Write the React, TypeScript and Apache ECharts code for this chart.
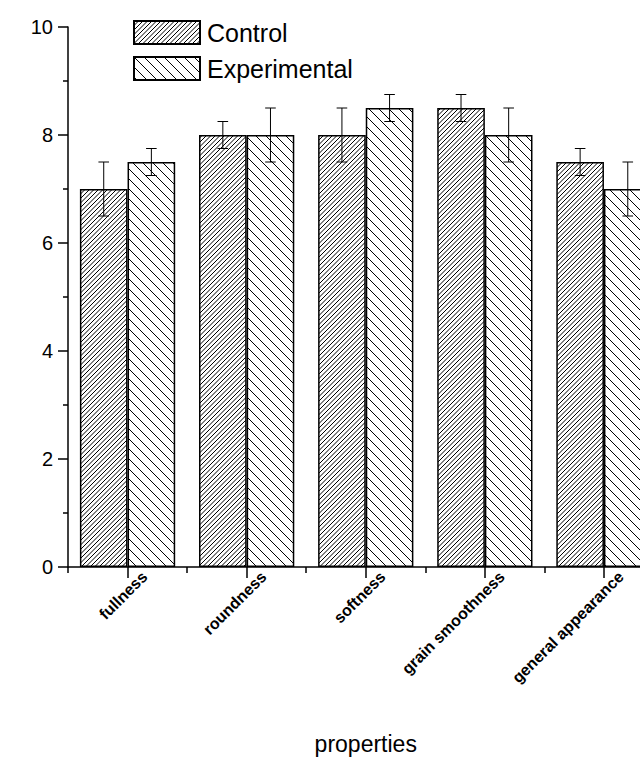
import React, { useEffect, useRef } from 'react';
import * as echarts from 'echarts';

const categories = ['fullness', 'roundness', 'softness', 'grain smoothness', 'general appearance'];
const controlMeans = [7, 8, 8, 8.5, 7.5];
const controlErrors = [0.5, 0.25, 0.5, 0.25, 0.25];
const experimentalMeans = [7.5, 8, 8.5, 8, 7];
const experimentalErrors = [0.25, 0.5, 0.25, 0.5, 0.5];
const yMin = 0;
const yMax = 10;
const yInterval = 2;
const axisTitle = 'properties';
const seriesNames = ['Control', 'Experimental'];

const FONT = '"Liberation Sans", Arial, sans-serif';

function makeHatch(size: number, spacing: number, dir: 1 | -1): HTMLCanvasElement {
  const c = document.createElement('canvas');
  c.width = size;
  c.height = size;
  const ctx = c.getContext('2d')!;
  ctx.fillStyle = '#fff';
  ctx.fillRect(0, 0, size, size);
  ctx.strokeStyle = '#000';
  ctx.lineWidth = 1;
  for (let k = -2 * size; k <= 3 * size; k += spacing) {
    ctx.beginPath();
    if (dir === 1) {
      ctx.moveTo(-size, k + size);
      ctx.lineTo(2 * size, k - 2 * size);
    } else {
      ctx.moveTo(-size, -size - k);
      ctx.lineTo(2 * size, 2 * size - k);
    }
    ctx.stroke();
  }
  return c;
}

function errorRender(sign: number) {
  return (params: any, api: any) => {
    const idx = api.value(0);
    const mean = api.value(1);
    const err = api.value(2);
    const band = api.size([1, 0])[0];
    const half = (band * 0.8) / 4;
    const cx = api.coord([idx, mean])[0] + sign * half;
    const yTop = api.coord([idx, mean + err])[1];
    const yBot = api.coord([idx, mean - err])[1];
    const capW = 5.3;
    const style = { stroke: '#000', lineWidth: 1 };
    return {
      type: 'group',
      children: [
        { type: 'line', shape: { x1: cx, y1: yTop, x2: cx, y2: yBot }, style },
        { type: 'line', shape: { x1: cx - capW, y1: yTop, x2: cx + capW, y2: yTop }, style },
        { type: 'line', shape: { x1: cx - capW, y1: yBot, x2: cx + capW, y2: yBot }, style },
      ],
    };
  };
}

const CHART_WIDTH = 690;

export default function App() {
  const ref = useRef<HTMLDivElement>(null);
  useEffect(() => {
    if (!ref.current) return;
    const chart = echarts.init(ref.current, undefined, { renderer: 'svg' });
    const controlPattern = { image: makeHatch(9, 4.5, 1), repeat: 'repeat' };
    const expPattern = { image: makeHatch(10, 10, -1), repeat: 'repeat' };
    const gridLeft = 68;
    const gridRight = 26.5;
    const labelShift = 17;
    chart.setOption({
      animation: false,
      backgroundColor: '#fff',
      legend: {
        data: seriesNames,
        orient: 'vertical',
        left: 133,
        top: 20,
        padding: 0,
        itemWidth: 66,
        itemHeight: 23,
        itemGap: 11,
        selectedMode: false,
        icon: 'rect',
        textStyle: { fontSize: 25, color: '#000', fontFamily: FONT, padding: [0, 0, 0, 2] },
      },
      grid: [
        { left: gridLeft, right: gridRight, top: 27, height: 540 },
        { left: gridLeft + labelShift, right: gridRight - labelShift, top: 27, height: 540 },
      ],
      xAxis: [
        {
          type: 'category',
          gridIndex: 0,
          data: categories,
          position: 'bottom',
          axisLine: { show: true, lineStyle: { color: '#000', width: 1.5 } },
          axisTick: { show: true, alignWithLabel: true, length: 11, interval: 0, lineStyle: { color: '#000', width: 1.5 } },
          axisLabel: { show: false },
          splitLine: { show: false },
          name: axisTitle,
          nameLocation: 'middle',
          nameGap: 165,
          nameTextStyle: { fontSize: 23, color: '#000', fontFamily: FONT },
        },
        {
          type: 'category',
          gridIndex: 0,
          data: categories,
          position: 'bottom',
          axisLine: { show: false },
          axisTick: { show: true, alignWithLabel: false, length: 6, interval: 0, lineStyle: { color: '#000', width: 1.5 } },
          axisLabel: { show: false },
          splitLine: { show: false },
        },
        {
          type: 'category',
          gridIndex: 1,
          data: categories,
          position: 'bottom',
          axisLine: { show: false },
          axisTick: { show: false },
          axisLabel: {
            show: true,
            interval: 0,
            rotate: 45,
            margin: 7,
            fontSize: 16,
            fontWeight: 'bold',
            color: '#000',
            fontFamily: FONT,
          },
          splitLine: { show: false },
        },
      ],
      yAxis: [
        {
          type: 'value',
          gridIndex: 0,
          min: yMin,
          max: yMax,
          interval: yInterval,
          axisLine: { show: true, lineStyle: { color: '#000', width: 1.5 } },
          axisTick: { show: true, inside: false, length: 10, lineStyle: { color: '#000', width: 1.5 } },
          minorTick: { show: true, splitNumber: 2, length: 5, lineStyle: { color: '#000', width: 1.5 } },
          axisLabel: { fontSize: 20, color: '#000', fontFamily: FONT, margin: 15 },
          splitLine: { show: false },
          minorSplitLine: { show: false },
        },
        {
          type: 'value',
          gridIndex: 1,
          min: yMin,
          max: yMax,
          show: false,
        },
      ],
      series: [
        {
          name: seriesNames[0],
          type: 'bar',
          xAxisIndex: 0,
          yAxisIndex: 0,
          data: controlMeans,
          barGap: '0%',
          barCategoryGap: '20%',
          itemStyle: { color: controlPattern, borderColor: '#000', borderWidth: 1.5 },
        },
        {
          name: seriesNames[1],
          type: 'bar',
          xAxisIndex: 0,
          yAxisIndex: 0,
          data: experimentalMeans,
          barGap: '0%',
          barCategoryGap: '20%',
          itemStyle: { color: expPattern, borderColor: '#000', borderWidth: 1.5 },
        },
        {
          name: 'Control error',
          type: 'custom',
          xAxisIndex: 0,
          yAxisIndex: 0,
          renderItem: errorRender(-1),
          encode: { x: 0, y: 1 },
          data: controlMeans.map((m, i) => [i, m, controlErrors[i]]),
          z: 5,
        },
        {
          name: 'Experimental error',
          type: 'custom',
          xAxisIndex: 0,
          yAxisIndex: 0,
          renderItem: errorRender(1),
          encode: { x: 0, y: 1 },
          data: experimentalMeans.map((m, i) => [i, m, experimentalErrors[i]]),
          z: 5,
        },
      ],
    });
    return () => chart.dispose();
  }, []);
  return (
    <div style={{ position: 'absolute', left: 0, top: 0, width: 640, height: 761, overflow: 'hidden' }}>
      <div ref={ref} style={{ width: CHART_WIDTH, height: 761 }} />
    </div>
  );
}
